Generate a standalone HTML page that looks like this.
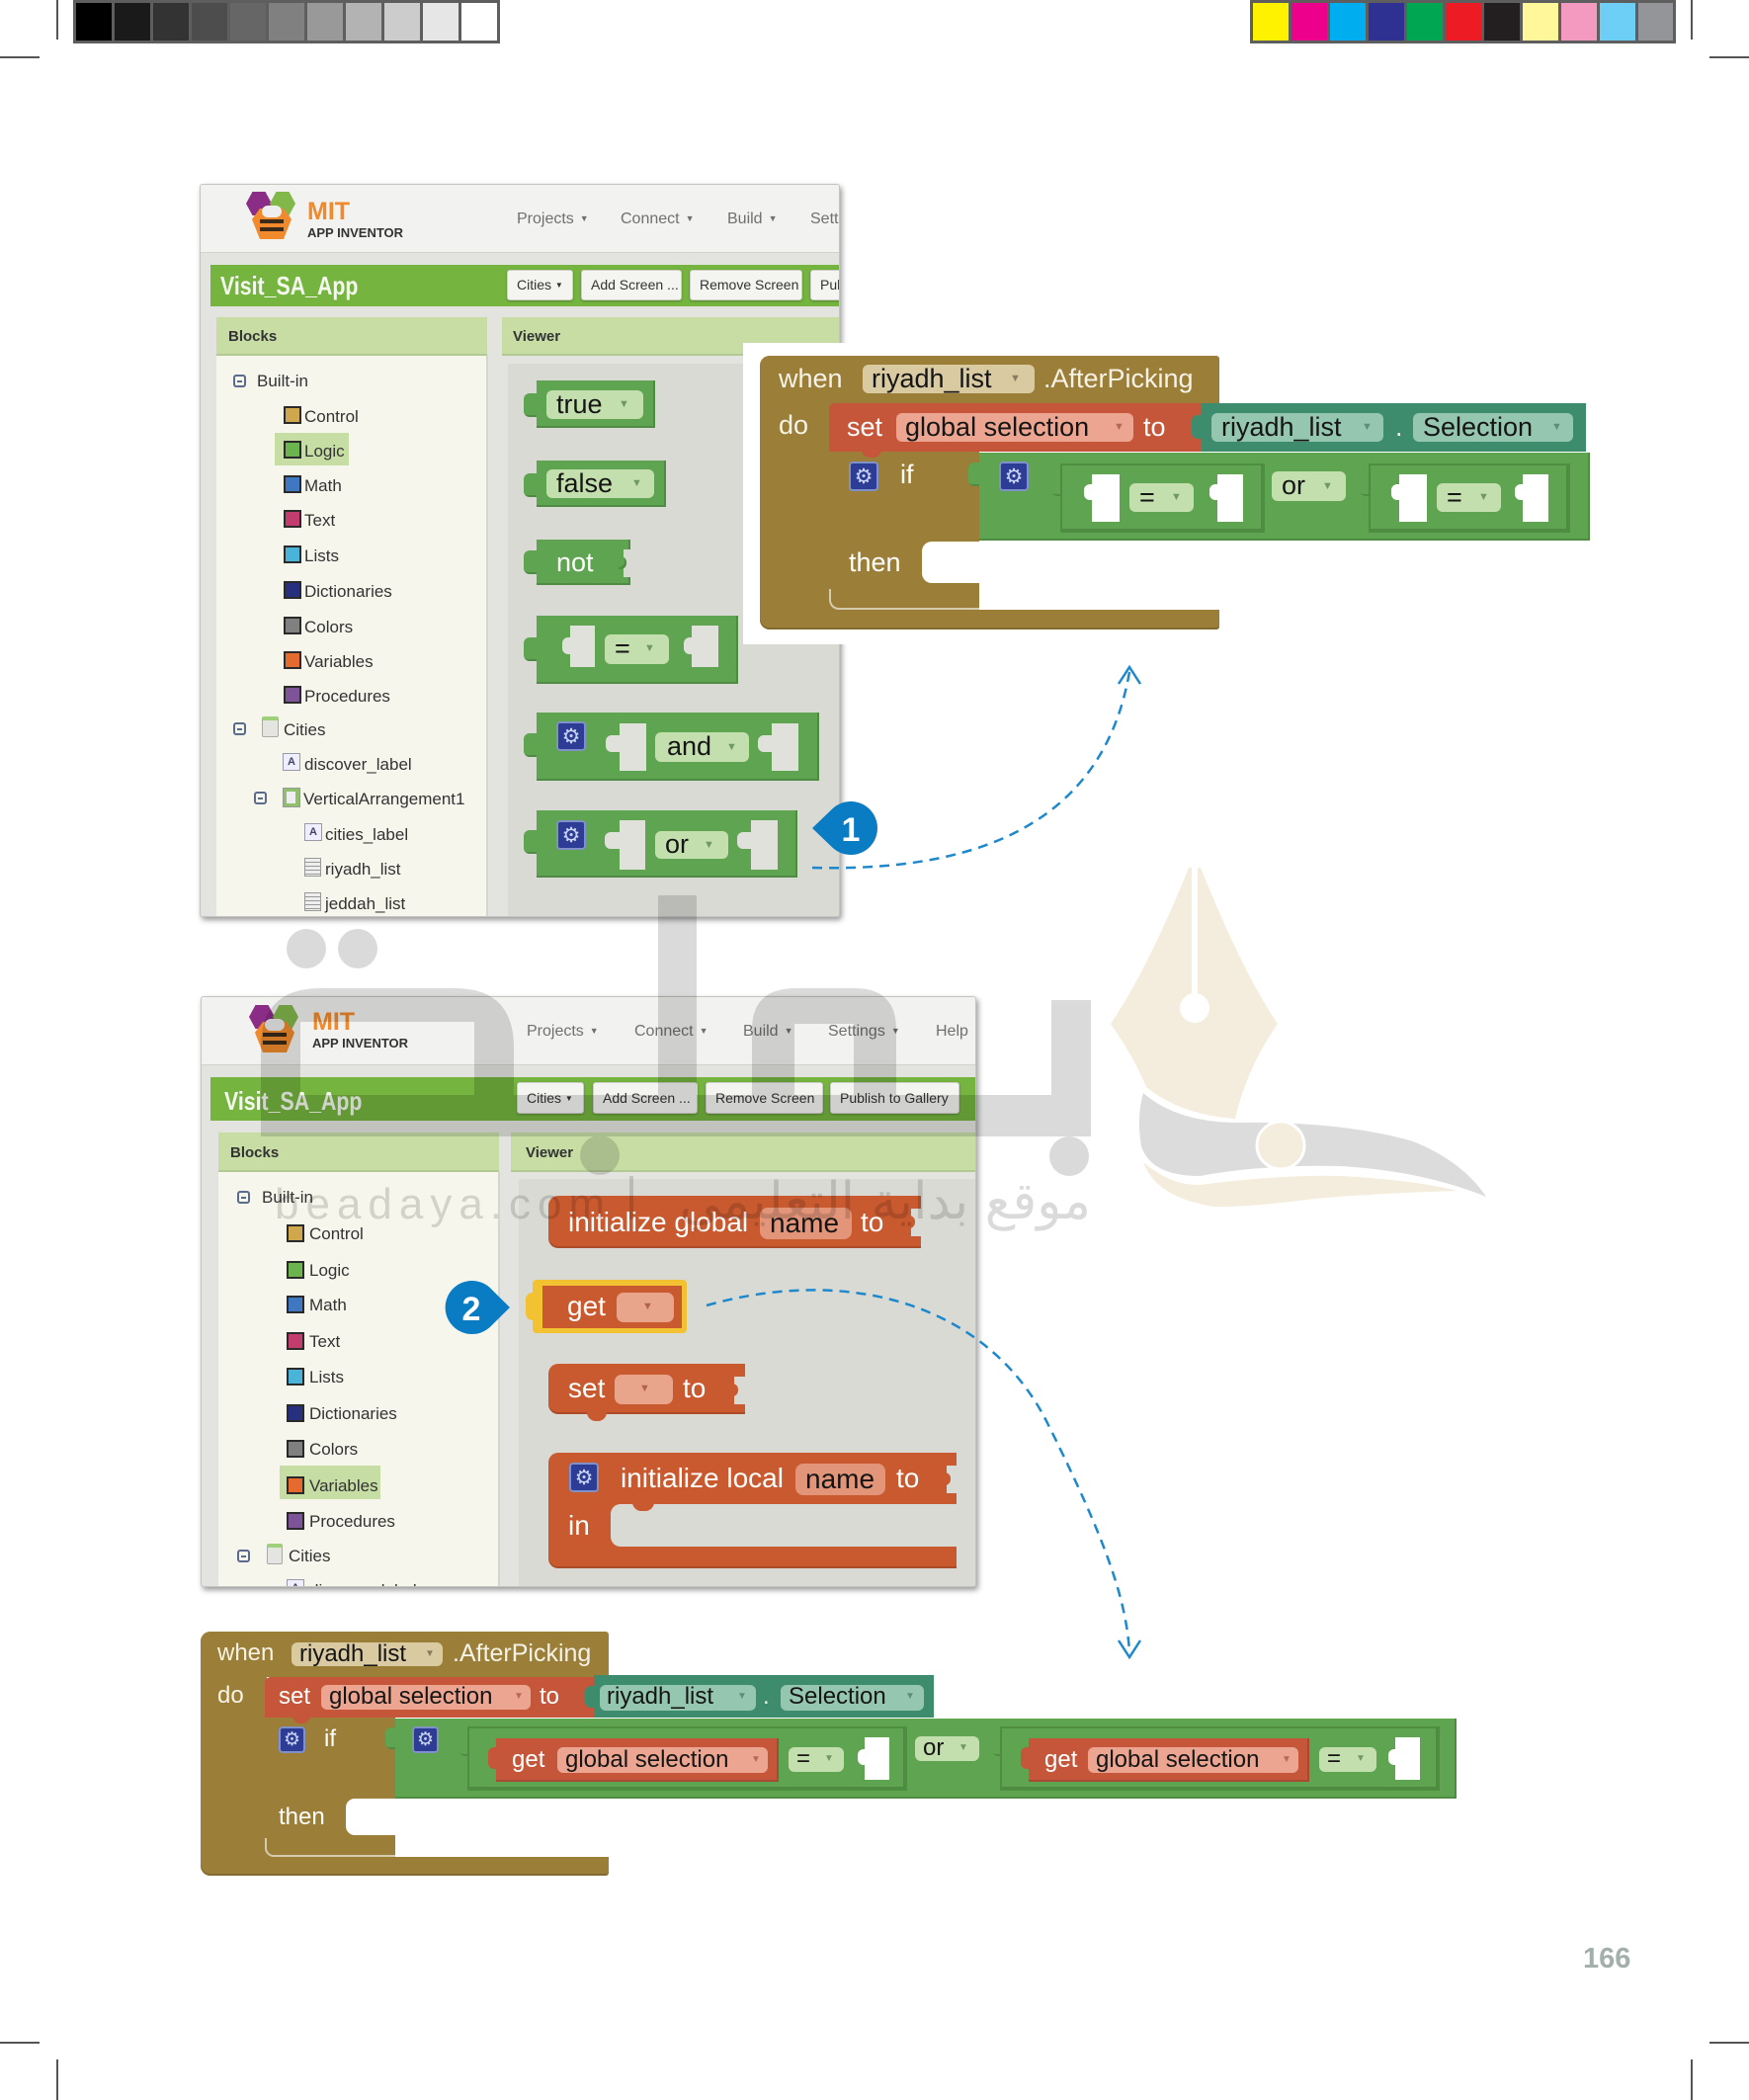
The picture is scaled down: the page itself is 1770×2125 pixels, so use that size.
<!DOCTYPE html>
<html><head><meta charset="utf-8">
<style>
*{box-sizing:border-box}
body{margin:0;width:1770px;height:2125px;position:relative;background:#fff;overflow:hidden;font-family:"Liberation Sans",sans-serif}
.a{position:absolute}
.t{position:absolute;white-space:nowrap;line-height:1}
.fr{position:absolute;overflow:hidden;background:#e3e3df;box-shadow:2px 3px 6px rgba(0,0,0,.4);border:1px solid #c4c4c0;border-radius:3px}
.hd{position:absolute;left:0;top:0;background:#f2f2f0;border-bottom:1px solid #d2d2ce}
.gb{position:absolute;background:#74b43f}
.btn{position:absolute;background:#f4f4f1;border:1px solid #cfcfca;border-radius:3px;box-shadow:0 1px 2px rgba(0,0,0,.25);font-size:14px;color:#333;line-height:29px;padding-left:9px;white-space:nowrap;overflow:hidden}
.ph{position:absolute;background:#c7dda4;border-bottom:2px solid #b3c993}
.pht{position:absolute;font-weight:bold;font-size:15px;color:#333;line-height:1;white-space:nowrap}
.mn{position:absolute;font-size:16px;color:#707070;white-space:nowrap;line-height:1}
.mn i{font-style:normal;font-size:9px;vertical-align:2px;margin-left:6px}
.tr{position:absolute;font-size:17px;color:#333;white-space:nowrap;line-height:1}
.sq{position:absolute;width:18px;height:18px;border:2px solid #2a2a2a}
.mi{position:absolute;width:13px;height:13px;border:2px solid #5a6b8c;border-radius:3px}
.mi:after{content:"";position:absolute;left:2px;top:4px;width:5px;height:2px;background:#5a6b8c}
.g{background:#5fa450;box-shadow:inset -2px -2px 0 rgba(0,0,0,.15)}
.gp{background:#c4dfae;border-radius:6px}
.br{background:#9b7e38}
.rd{background:#c6563a}
.or2{background:#c9592f}
.tl{background:#3d8c6d}
.bp{background:#d9caa2;border-radius:6px}
.sp{background:#eca590;border-radius:6px}
.tp{background:#94c6b0;border-radius:6px}
.w{color:#f6f2e6}
.k{color:#151515}
.ar{position:absolute;font-size:11px;line-height:1}
.gear{position:absolute;width:30px;height:30px;background:#2d3c94;border:2px solid #8090c8;border-radius:4px;color:#c9d4f2;font-family:"DejaVu Sans",sans-serif;font-size:21px;line-height:26px;text-align:center}
.sk{position:absolute;background:#e1e1dc}
.skw{position:absolute;background:#fff}
.nt{position:absolute;border-radius:6px 0 0 6px}
</style></head><body>

<!-- page marks -->
<div class="a" style="left:57px;top:0;width:2px;height:40px;background:#555"></div>
<div class="a" style="left:0;top:57px;width:40px;height:2px;background:#555"></div>
<div class="a" style="left:1711px;top:0;width:2px;height:40px;background:#555"></div>
<div class="a" style="left:1730px;top:57px;width:40px;height:2px;background:#555"></div>
<div class="a" style="left:0;top:2066px;width:40px;height:2px;background:#555"></div>
<div class="a" style="left:1730px;top:2066px;width:40px;height:2px;background:#555"></div>
<div class="a" style="left:57px;top:2084px;width:2px;height:41px;background:#555"></div>
<div class="a" style="left:1711px;top:2084px;width:2px;height:41px;background:#555"></div>

<div class="a" style="left:74px;top:0;width:432px;height:44px;background:#5e5e5e"></div>
<div class="a" style="left:77px;top:3px;width:36px;height:38px;background:#000"></div>
<div class="a" style="left:116px;top:3px;width:36px;height:38px;background:#1a1a1a"></div>
<div class="a" style="left:155px;top:3px;width:36px;height:38px;background:#333"></div>
<div class="a" style="left:194px;top:3px;width:36px;height:38px;background:#4d4d4d"></div>
<div class="a" style="left:233px;top:3px;width:36px;height:38px;background:#666"></div>
<div class="a" style="left:272px;top:3px;width:36px;height:38px;background:#808080"></div>
<div class="a" style="left:311px;top:3px;width:36px;height:38px;background:#999"></div>
<div class="a" style="left:350px;top:3px;width:36px;height:38px;background:#b3b3b3"></div>
<div class="a" style="left:389px;top:3px;width:36px;height:38px;background:#ccc"></div>
<div class="a" style="left:428px;top:3px;width:36px;height:38px;background:#e6e6e6"></div>
<div class="a" style="left:467px;top:3px;width:36px;height:38px;background:#fff"></div>

<div class="a" style="left:1265px;top:0;width:431px;height:44px;background:#5e5e5e"></div>
<div class="a" style="left:1268px;top:3px;width:36px;height:38px;background:#fff200"></div>
<div class="a" style="left:1307px;top:3px;width:36px;height:38px;background:#ec008c"></div>
<div class="a" style="left:1346px;top:3px;width:36px;height:38px;background:#00aeef"></div>
<div class="a" style="left:1385px;top:3px;width:36px;height:38px;background:#2e3192"></div>
<div class="a" style="left:1424px;top:3px;width:36px;height:38px;background:#00a651"></div>
<div class="a" style="left:1463px;top:3px;width:36px;height:38px;background:#ed1c24"></div>
<div class="a" style="left:1502px;top:3px;width:36px;height:38px;background:#231f20"></div>
<div class="a" style="left:1541px;top:3px;width:36px;height:38px;background:#fff799"></div>
<div class="a" style="left:1580px;top:3px;width:36px;height:38px;background:#f49ac1"></div>
<div class="a" style="left:1619px;top:3px;width:36px;height:38px;background:#6dcff6"></div>
<div class="a" style="left:1658px;top:3px;width:35px;height:38px;background:#939598"></div>

<!-- ================= FRAME 1 ================= -->
<div class="fr" style="left:202px;top:186px;width:648px;height:742px">
  <div class="hd" style="width:648px;height:69px"></div>
  <div class="a" style="left:46px;top:7px;width:26px;height:24px;background:#8b2c86;clip-path:polygon(25% 0,75% 0,100% 50%,75% 100%,25% 100%,0 50%)"></div>
  <div class="a" style="left:70px;top:7px;width:26px;height:24px;background:#82b84a;clip-path:polygon(25% 0,75% 0,100% 50%,75% 100%,25% 100%,0 50%)"></div>
  <div class="a" style="left:52px;top:24px;width:40px;height:31px;background:#f08a2c;clip-path:polygon(20% 0,80% 0,100% 35%,80% 100%,20% 100%,0 35%)"></div>
  <div class="a" style="left:62px;top:21px;width:20px;height:12px;background:#eee;border-radius:6px"></div>
  <div class="a" style="left:60px;top:35px;width:24px;height:4px;background:#3a2a1a"></div>
  <div class="a" style="left:60px;top:43px;width:24px;height:4px;background:#3a2a1a"></div>
  <div class="t" style="left:108px;top:15px;font-size:25px;font-weight:bold;color:#f08a2c">MIT</div>
  <div class="t" style="left:108px;top:42px;font-size:13px;font-weight:bold;color:#333">APP INVENTOR</div>
  <div class="mn" style="left:320px;top:27px">Projects<i>▼</i></div>
  <div class="mn" style="left:425px;top:27px">Connect<i>▼</i></div>
  <div class="mn" style="left:533px;top:27px">Build<i>▼</i></div>
  <div class="mn" style="left:617px;top:27px">Settings</div>
  <div class="gb" style="left:10px;top:81px;width:640px;height:42px"></div>
  <div class="t" style="left:20px;top:89px;font-size:26px;font-weight:bold;color:#f4f8ee;transform:scaleX(.82);transform-origin:0 0">Visit_SA_App</div>
  <div class="btn" style="left:310px;top:86px;width:67px;height:31px">Cities <span style="font-size:8px;vertical-align:2px">▼</span></div>
  <div class="btn" style="left:385px;top:86px;width:102px;height:31px">Add Screen ...</div>
  <div class="btn" style="left:495px;top:86px;width:114px;height:31px">Remove Screen</div>
  <div class="btn" style="left:617px;top:86px;width:60px;height:31px">Publish</div>
  <div class="ph" style="left:16px;top:134px;width:274px;height:39px"></div>
  <div class="pht" style="left:28px;top:146px">Blocks</div>
  <div class="ph" style="left:305px;top:134px;width:350px;height:39px"></div>
  <div class="pht" style="left:316px;top:146px">Viewer</div>
  <div class="a" style="left:16px;top:173px;width:275px;height:580px;background:#f6f6ec;border-right:2px solid #d6d6d0"></div>
  <div class="a" style="left:311px;top:181px;width:345px;height:570px;background:#dadad5"></div>
  <div class="mi" style="left:33px;top:192px"></div>
  <div class="tr" style="left:57px;top:190px">Built-in</div>
  <div class="a" style="left:75px;top:251px;width:75px;height:33px;background:#c6dea3"></div>
  <div class="sq" style="left:84px;top:224px;background:#cfa84e"></div><div class="tr" style="left:105px;top:226px">Control</div>
  <div class="sq" style="left:84px;top:259px;background:#6cb44e"></div><div class="tr" style="left:105px;top:261px">Logic</div>
  <div class="sq" style="left:84px;top:294px;background:#3f78c0"></div><div class="tr" style="left:105px;top:296px">Math</div>
  <div class="sq" style="left:84px;top:329px;background:#c23d6e"></div><div class="tr" style="left:105px;top:331px">Text</div>
  <div class="sq" style="left:84px;top:365px;background:#4ab3d8"></div><div class="tr" style="left:105px;top:367px">Lists</div>
  <div class="sq" style="left:84px;top:401px;background:#26307e"></div><div class="tr" style="left:105px;top:403px">Dictionaries</div>
  <div class="sq" style="left:84px;top:437px;background:#808080"></div><div class="tr" style="left:105px;top:439px">Colors</div>
  <div class="sq" style="left:84px;top:472px;background:#e46a2e"></div><div class="tr" style="left:105px;top:474px">Variables</div>
  <div class="sq" style="left:84px;top:507px;background:#7e5498"></div><div class="tr" style="left:105px;top:509px">Procedures</div>
  <div class="mi" style="left:33px;top:544px"></div>
  <div class="a" style="left:62px;top:538px;width:17px;height:21px;background:#e4e4e0;border:1px solid #aaa;border-top:4px solid #9fd07a;border-radius:2px"></div>
  <div class="tr" style="left:84px;top:543px">Cities</div>
  <div class="a" style="left:83px;top:575px;width:18px;height:18px;background:#eef;border:1px solid #99a;font-size:11px;line-height:16px;text-align:center;color:#446;font-weight:bold">A</div>
  <div class="tr" style="left:105px;top:578px">discover_label</div>
  <div class="mi" style="left:54px;top:614px"></div>
  <div class="a" style="left:83px;top:610px;width:18px;height:20px;background:#8fc06c;border:1px solid #999"></div>
  <div class="a" style="left:87px;top:614px;width:9px;height:12px;background:#eee"></div>
  <div class="tr" style="left:104px;top:613px">VerticalArrangement1</div>
  <div class="a" style="left:105px;top:646px;width:18px;height:18px;background:#eef;border:1px solid #99a;font-size:11px;line-height:16px;text-align:center;color:#446;font-weight:bold">A</div>
  <div class="tr" style="left:126px;top:649px">cities_label</div>
  <div class="a" style="left:105px;top:681px;width:17px;height:19px;background:#eee;border:1px solid #999;background-image:repeating-linear-gradient(#eee 0 3px,#999 3px 4px)"></div>
  <div class="tr" style="left:126px;top:684px">riyadh_list</div>
  <div class="a" style="left:105px;top:716px;width:17px;height:19px;background:#eee;border:1px solid #999;background-image:repeating-linear-gradient(#eee 0 3px,#999 3px 4px)"></div>
  <div class="tr" style="left:126px;top:719px">jeddah_list</div>
</div>

<!-- ================= FRAME 2 ================= -->
<div class="fr" style="left:203px;top:1008px;width:785px;height:598px">
  <div class="hd" style="width:785px;height:69px"></div>
  <div class="a" style="left:48px;top:8px;width:26px;height:24px;background:#8b2c86;clip-path:polygon(25% 0,75% 0,100% 50%,75% 100%,25% 100%,0 50%)"></div>
  <div class="a" style="left:72px;top:8px;width:26px;height:24px;background:#82b84a;clip-path:polygon(25% 0,75% 0,100% 50%,75% 100%,25% 100%,0 50%)"></div>
  <div class="a" style="left:54px;top:25px;width:40px;height:31px;background:#f08a2c;clip-path:polygon(20% 0,80% 0,100% 35%,80% 100%,20% 100%,0 35%)"></div>
  <div class="a" style="left:64px;top:22px;width:20px;height:12px;background:#eee;border-radius:6px"></div>
  <div class="a" style="left:62px;top:36px;width:24px;height:4px;background:#3a2a1a"></div>
  <div class="a" style="left:62px;top:44px;width:24px;height:4px;background:#3a2a1a"></div>
  <div class="t" style="left:112px;top:13px;font-size:25px;font-weight:bold;color:#f08a2c">MIT</div>
  <div class="t" style="left:112px;top:40px;font-size:13px;font-weight:bold;color:#333">APP INVENTOR</div>
  <div class="mn" style="left:329px;top:27px">Projects<i>▼</i></div>
  <div class="mn" style="left:438px;top:27px">Connect<i>▼</i></div>
  <div class="mn" style="left:548px;top:27px">Build<i>▼</i></div>
  <div class="mn" style="left:634px;top:27px">Settings<i>▼</i></div>
  <div class="mn" style="left:743px;top:27px">Help</div>
  <div class="gb" style="left:9px;top:81px;width:780px;height:44px"></div>
  <div class="t" style="left:23px;top:92px;font-size:26px;font-weight:bold;color:#f4f8ee;transform:scaleX(.82);transform-origin:0 0">Visit_SA_App</div>
  <div class="btn" style="left:319px;top:86px;width:68px;height:32px;line-height:30px">Cities <span style="font-size:8px;vertical-align:2px">▼</span></div>
  <div class="btn" style="left:396px;top:86px;width:106px;height:32px;line-height:30px">Add Screen ...</div>
  <div class="btn" style="left:510px;top:86px;width:119px;height:32px;line-height:30px">Remove Screen</div>
  <div class="btn" style="left:636px;top:86px;width:131px;height:32px;line-height:30px">Publish to Gallery</div>
  <div class="ph" style="left:17px;top:137px;width:284px;height:40px"></div>
  <div class="pht" style="left:29px;top:150px">Blocks</div>
  <div class="ph" style="left:313px;top:137px;width:480px;height:40px"></div>
  <div class="pht" style="left:328px;top:150px">Viewer</div>
  <div class="a" style="left:17px;top:177px;width:285px;height:430px;background:#f6f6ec;border-right:2px solid #d6d6d0"></div>
  <div class="a" style="left:321px;top:184px;width:470px;height:420px;background:#dadad5"></div>
  <div class="mi" style="left:36px;top:196px"></div>
  <div class="tr" style="left:61px;top:194px">Built-in</div>
  <div class="a" style="left:79px;top:474px;width:102px;height:34px;background:#c6dea3"></div>
  <div class="sq" style="left:86px;top:230px;background:#cfa84e"></div><div class="tr" style="left:109px;top:231px">Control</div>
  <div class="sq" style="left:86px;top:267px;background:#6cb44e"></div><div class="tr" style="left:109px;top:268px">Logic</div>
  <div class="sq" style="left:86px;top:302px;background:#3f78c0"></div><div class="tr" style="left:109px;top:303px">Math</div>
  <div class="sq" style="left:86px;top:339px;background:#c23d6e"></div><div class="tr" style="left:109px;top:340px">Text</div>
  <div class="sq" style="left:86px;top:375px;background:#4ab3d8"></div><div class="tr" style="left:109px;top:376px">Lists</div>
  <div class="sq" style="left:86px;top:412px;background:#26307e"></div><div class="tr" style="left:109px;top:413px">Dictionaries</div>
  <div class="sq" style="left:86px;top:448px;background:#808080"></div><div class="tr" style="left:109px;top:449px">Colors</div>
  <div class="sq" style="left:86px;top:485px;background:#e46a2e"></div><div class="tr" style="left:109px;top:486px">Variables</div>
  <div class="sq" style="left:86px;top:521px;background:#7e5498"></div><div class="tr" style="left:109px;top:522px">Procedures</div>
  <div class="mi" style="left:36px;top:559px"></div>
  <div class="a" style="left:66px;top:553px;width:16px;height:21px;background:#e4e4e0;border:1px solid #aaa;border-top:4px solid #9fd07a;border-radius:2px"></div>
  <div class="tr" style="left:88px;top:557px">Cities</div>
  <div class="a" style="left:86px;top:589px;width:18px;height:18px;background:#eef;border:1px solid #99a;font-size:11px;line-height:16px;text-align:center;color:#446;font-weight:bold">A</div>
  <div class="tr" style="left:109px;top:592px">discover_label</div>
</div>

<!-- ============ Frame 1 viewer blocks ============ -->
<div class="a g nt" style="left:530px;top:398px;width:16px;height:24px"></div>
<div class="a g" style="left:543px;top:385px;width:120px;height:48px"></div>
<div class="a gp" style="left:553px;top:395px;width:98px;height:29px"></div>
<div class="t k" style="left:563px;top:396px;font-size:27px">true</div>
<div class="ar" style="left:626px;top:404px;color:#6f9a5f">▼</div>

<div class="a g nt" style="left:530px;top:479px;width:16px;height:24px"></div>
<div class="a g" style="left:543px;top:466px;width:131px;height:47px"></div>
<div class="a gp" style="left:553px;top:475px;width:109px;height:29px"></div>
<div class="t k" style="left:563px;top:476px;font-size:27px">false</div>
<div class="ar" style="left:639px;top:484px;color:#6f9a5f">▼</div>

<div class="a g nt" style="left:530px;top:557px;width:16px;height:24px"></div>
<div class="a g" style="left:543px;top:546px;width:95px;height:46px"></div>
<div class="t w" style="left:563px;top:556px;font-size:27px;color:#fff">not</div>
<div class="a" style="left:631px;top:556px;width:8px;height:28px;background:#dadad5"></div>
<div class="a g" style="left:626px;top:563px;width:8px;height:13px;border-radius:0 6px 6px 0"></div>

<div class="a g nt" style="left:530px;top:645px;width:16px;height:24px"></div>
<div class="a g" style="left:543px;top:623px;width:204px;height:69px"></div>
<div class="sk nt" style="left:569px;top:645px;width:10px;height:17px"></div>
<div class="sk" style="left:577px;top:633px;width:25px;height:42px"></div>
<div class="a gp" style="left:612px;top:642px;width:65px;height:30px"></div>
<div class="t k" style="left:622px;top:643px;font-size:27px">=</div>
<div class="ar" style="left:652px;top:651px;color:#6f9a5f">▼</div>
<div class="sk nt" style="left:692px;top:645px;width:10px;height:17px"></div>
<div class="sk" style="left:700px;top:633px;width:27px;height:42px"></div>

<div class="a g nt" style="left:530px;top:742px;width:16px;height:24px"></div>
<div class="a g" style="left:543px;top:721px;width:286px;height:69px"></div>
<div class="gear" style="left:563px;top:730px">⚙</div>
<div class="sk nt" style="left:613px;top:744px;width:16px;height:17px"></div>
<div class="sk" style="left:627px;top:732px;width:27px;height:48px"></div>
<div class="a gp" style="left:663px;top:741px;width:95px;height:30px"></div>
<div class="t k" style="left:675px;top:742px;font-size:27px">and</div>
<div class="ar" style="left:735px;top:751px;color:#6f9a5f">▼</div>
<div class="sk nt" style="left:767px;top:744px;width:16px;height:17px"></div>
<div class="sk" style="left:781px;top:732px;width:27px;height:48px"></div>

<div class="a g nt" style="left:530px;top:840px;width:16px;height:24px"></div>
<div class="a g" style="left:543px;top:820px;width:264px;height:68px"></div>
<div class="gear" style="left:563px;top:830px">⚙</div>
<div class="sk nt" style="left:612px;top:842px;width:17px;height:17px"></div>
<div class="sk" style="left:627px;top:830px;width:26px;height:50px"></div>
<div class="a gp" style="left:663px;top:841px;width:74px;height:28px"></div>
<div class="t k" style="left:673px;top:841px;font-size:27px">or</div>
<div class="ar" style="left:712px;top:850px;color:#6f9a5f">▼</div>
<div class="sk nt" style="left:746px;top:842px;width:16px;height:17px"></div>
<div class="sk" style="left:760px;top:830px;width:27px;height:50px"></div>

<div class="a" style="left:752px;top:347px;width:112px;height:305px;background:#fff"></div>

<!-- ============ TOP event block ============ -->
<div class="a br" style="left:769px;top:360px;width:465px;height:50px;border-radius:10px 3px 0 0"></div>
<div class="a br" style="left:769px;top:360px;width:72px;height:277px;border-radius:10px 0 0 10px"></div>
<div class="a br" style="left:769px;top:617px;width:465px;height:20px;border-radius:0 0 3px 10px;box-shadow:inset 0 -2px 0 rgba(0,0,0,.15)"></div>
<div class="a br" style="left:839px;top:457px;width:152px;height:161px"></div>
<div class="a" style="left:933px;top:548px;width:60px;height:42px;background:#fff;border-radius:10px 0 0 10px"></div>
<div class="a" style="left:839px;top:596px;width:152px;height:21px;border-left:2px solid rgba(255,255,255,.6);border-bottom:2px solid rgba(255,255,255,.6);border-radius:0 0 0 10px"></div>
<div class="t w" style="left:788px;top:370px;font-size:27px">when</div>
<div class="a bp" style="left:873px;top:369px;width:174px;height:29px"></div>
<div class="t k" style="left:882px;top:370px;font-size:27px">riyadh_list</div>
<div class="ar" style="left:1022px;top:378px;color:#8a7d5c">▼</div>
<div class="t w" style="left:1056px;top:370px;font-size:27px">.AfterPicking</div>
<div class="t w" style="left:788px;top:417px;font-size:27px">do</div>
<div class="a rd" style="left:839px;top:408px;width:377px;height:49px;border-radius:6px 0 0 0"></div>
<div class="a rd" style="left:872px;top:455px;width:20px;height:8px;border-radius:0 0 8px 8px"></div>
<div class="t" style="left:857px;top:419px;font-size:27px;color:#fff">set</div>
<div class="a sp" style="left:907px;top:418px;width:240px;height:29px"></div>
<div class="t k" style="left:916px;top:419px;font-size:27px">global selection</div>
<div class="ar" style="left:1127px;top:427px;color:#b56a55">▼</div>
<div class="t" style="left:1157px;top:419px;font-size:27px;color:#fff">to</div>
<div class="a tl nt" style="left:1206px;top:420px;width:12px;height:24px"></div>
<div class="a tl" style="left:1216px;top:408px;width:389px;height:49px"></div>
<div class="a tp" style="left:1226px;top:418px;width:174px;height:29px"></div>
<div class="t k" style="left:1236px;top:419px;font-size:27px">riyadh_list</div>
<div class="ar" style="left:1378px;top:427px;color:#5f8e7b">▼</div>
<div class="t" style="left:1412px;top:419px;font-size:27px;color:#e8f0ec">.</div>
<div class="a tp" style="left:1430px;top:418px;width:162px;height:29px"></div>
<div class="t k" style="left:1440px;top:419px;font-size:27px">Selection</div>
<div class="ar" style="left:1570px;top:427px;color:#5f8e7b">▼</div>
<div class="gear" style="left:859px;top:467px">⚙</div>
<div class="t" style="left:911px;top:467px;font-size:27px;color:#fff">if</div>
<div class="t" style="left:859px;top:556px;font-size:27px;color:#fff">then</div>
<div class="a g nt" style="left:980px;top:468px;width:13px;height:24px"></div>
<div class="a g" style="left:991px;top:458px;width:618px;height:89px"></div>
<div class="gear" style="left:1011px;top:467px">⚙</div>
<div class="a g" style="left:1073px;top:469px;width:207px;height:70px;border:2px solid #4d8e40"></div>
<div class="a g nt" style="left:1064px;top:480px;width:11px;height:22px"></div>
<div class="skw nt" style="left:1097px;top:490px;width:10px;height:16px"></div>
<div class="skw" style="left:1105px;top:480px;width:28px;height:48px"></div>
<div class="a gp" style="left:1143px;top:489px;width:65px;height:29px"></div>
<div class="t k" style="left:1153px;top:490px;font-size:27px">=</div>
<div class="ar" style="left:1185px;top:498px;color:#6f9a5f">▼</div>
<div class="skw nt" style="left:1224px;top:490px;width:10px;height:16px"></div>
<div class="skw" style="left:1232px;top:480px;width:26px;height:48px"></div>
<div class="a gp" style="left:1287px;top:477px;width:75px;height:30px"></div>
<div class="t k" style="left:1297px;top:478px;font-size:27px">or</div>
<div class="ar" style="left:1338px;top:487px;color:#6f9a5f">▼</div>
<div class="a g" style="left:1385px;top:469px;width:204px;height:70px;border:2px solid #4d8e40"></div>
<div class="a g nt" style="left:1376px;top:480px;width:11px;height:22px"></div>
<div class="skw nt" style="left:1408px;top:490px;width:10px;height:16px"></div>
<div class="skw" style="left:1416px;top:480px;width:28px;height:48px"></div>
<div class="a gp" style="left:1454px;top:489px;width:65px;height:29px"></div>
<div class="t k" style="left:1464px;top:490px;font-size:27px">=</div>
<div class="ar" style="left:1496px;top:498px;color:#6f9a5f">▼</div>
<div class="skw nt" style="left:1533px;top:490px;width:10px;height:16px"></div>
<div class="skw" style="left:1541px;top:480px;width:26px;height:48px"></div>

<!-- ============ Frame 2 viewer blocks ============ -->
<div class="a or2" style="left:555px;top:1210px;width:377px;height:53px;border-radius:10px 0 0 10px;box-shadow:inset 0 -2px 0 rgba(0,0,0,.15)"></div>
<div class="t" style="left:575px;top:1223px;font-size:28px;color:#fff">initialize global</div>
<div class="a" style="left:769px;top:1222px;width:93px;height:32px;background:#e3957a;border-radius:8px"></div>
<div class="t k" style="left:779px;top:1224px;font-size:28px">name</div>
<div class="t" style="left:871px;top:1223px;font-size:28px;color:#fff">to</div>
<div class="a" style="left:922px;top:1223px;width:11px;height:28px;background:#dadad5"></div>
<div class="a or2" style="left:917px;top:1230px;width:9px;height:13px;border-radius:0 6px 6px 0"></div>

<div class="a" style="left:539px;top:1295px;width:156px;height:54px;background:#f2c233;border-radius:4px"></div>
<div class="a" style="left:532px;top:1308px;width:12px;height:28px;background:#f2c233;border-radius:7px 0 0 7px"></div>
<div class="a or2" style="left:549px;top:1301px;width:141px;height:43px"></div>
<div class="t" style="left:574px;top:1308px;font-size:28px;color:#fff">get</div>
<div class="a" style="left:624px;top:1308px;width:58px;height:30px;background:#e8a58c;border-radius:7px"></div>
<div class="ar" style="left:650px;top:1317px;color:#b0644a">▼</div>

<div class="a or2" style="left:555px;top:1380px;width:199px;height:51px;border-radius:10px 0 0 10px;box-shadow:inset 0 -2px 0 rgba(0,0,0,.15)"></div>
<div class="a or2" style="left:594px;top:1429px;width:20px;height:9px;border-radius:0 0 9px 9px"></div>
<div class="t" style="left:575px;top:1391px;font-size:28px;color:#fff">set</div>
<div class="a" style="left:622px;top:1391px;width:59px;height:30px;background:#e8a58c;border-radius:7px"></div>
<div class="ar" style="left:647px;top:1400px;color:#b0644a">▼</div>
<div class="t" style="left:691px;top:1391px;font-size:28px;color:#fff">to</div>
<div class="a" style="left:743px;top:1393px;width:11px;height:28px;background:#dadad5"></div>
<div class="a or2" style="left:738px;top:1400px;width:9px;height:13px;border-radius:0 6px 6px 0"></div>

<div class="a or2" style="left:555px;top:1470px;width:413px;height:117px;border-radius:10px 0 0 10px;box-shadow:inset 0 -2px 0 rgba(0,0,0,.15)"></div>
<div class="a" style="left:618px;top:1522px;width:352px;height:43px;background:#dadad5;border-radius:10px 0 0 10px"></div>
<div class="a or2" style="left:640px;top:1520px;width:22px;height:9px;border-radius:0 0 9px 9px"></div>
<div class="gear" style="left:576px;top:1480px">⚙</div>
<div class="t" style="left:628px;top:1482px;font-size:28px;color:#fff">initialize local</div>
<div class="a" style="left:805px;top:1481px;width:91px;height:32px;background:#e3957a;border-radius:8px"></div>
<div class="t k" style="left:815px;top:1483px;font-size:28px">name</div>
<div class="t" style="left:907px;top:1482px;font-size:28px;color:#fff">to</div>
<div class="a" style="left:958px;top:1483px;width:12px;height:28px;background:#dadad5"></div>
<div class="a or2" style="left:953px;top:1490px;width:9px;height:13px;border-radius:0 6px 6px 0"></div>
<div class="t" style="left:575px;top:1530px;font-size:28px;color:#fff">in</div>

<!-- ============ BOTTOM event block ============ -->
<div class="a br" style="left:203px;top:1651px;width:413px;height:46px;border-radius:10px 3px 0 0"></div>
<div class="a br" style="left:203px;top:1651px;width:67px;height:247px;border-radius:10px 0 0 10px"></div>
<div class="a br" style="left:203px;top:1879px;width:413px;height:19px;border-radius:0 0 3px 10px;box-shadow:inset 0 -2px 0 rgba(0,0,0,.15)"></div>
<div class="a br" style="left:268px;top:1738px;width:132px;height:141px"></div>
<div class="a" style="left:350px;top:1820px;width:52px;height:37px;background:#fff;border-radius:9px 0 0 9px"></div>
<div class="a" style="left:268px;top:1860px;width:132px;height:19px;border-left:2px solid rgba(255,255,255,.6);border-bottom:2px solid rgba(255,255,255,.6);border-radius:0 0 0 9px"></div>
<div class="t w" style="left:220px;top:1661px;font-size:24px">when</div>
<div class="a bp" style="left:295px;top:1662px;width:153px;height:24px"></div>
<div class="t k" style="left:303px;top:1662px;font-size:24px">riyadh_list</div>
<div class="ar" style="left:430px;top:1669px;font-size:10px;color:#8a7d5c">▼</div>
<div class="t w" style="left:458px;top:1661px;font-size:25px">.AfterPicking</div>
<div class="t w" style="left:220px;top:1704px;font-size:24px">do</div>
<div class="a rd" style="left:268px;top:1697px;width:333px;height:41px;border-radius:6px 0 0 0"></div>
<div class="a rd" style="left:296px;top:1736px;width:18px;height:8px;border-radius:0 0 8px 8px"></div>
<div class="t" style="left:282px;top:1705px;font-size:24px;color:#fff">set</div>
<div class="a sp" style="left:325px;top:1705px;width:212px;height:25px"></div>
<div class="t k" style="left:333px;top:1705px;font-size:24px">global selection</div>
<div class="ar" style="left:520px;top:1712px;font-size:10px;color:#b56a55">▼</div>
<div class="t" style="left:546px;top:1705px;font-size:24px;color:#fff">to</div>
<div class="a tl nt" style="left:592px;top:1706px;width:11px;height:22px"></div>
<div class="a tl" style="left:601px;top:1695px;width:344px;height:43px"></div>
<div class="a tp" style="left:607px;top:1705px;width:158px;height:26px"></div>
<div class="t k" style="left:614px;top:1705px;font-size:24px">riyadh_list</div>
<div class="ar" style="left:746px;top:1712px;font-size:10px;color:#5f8e7b">▼</div>
<div class="t" style="left:772px;top:1705px;font-size:24px;color:#e8f0ec">.</div>
<div class="a tp" style="left:790px;top:1705px;width:145px;height:26px"></div>
<div class="t k" style="left:798px;top:1705px;font-size:24px">Selection</div>
<div class="ar" style="left:916px;top:1712px;font-size:10px;color:#5f8e7b">▼</div>
<div class="gear" style="left:282px;top:1747px;width:27px;height:27px;font-size:19px;line-height:23px">⚙</div>
<div class="t" style="left:328px;top:1748px;font-size:24px;color:#fff">if</div>
<div class="t" style="left:282px;top:1827px;font-size:24px;color:#fff">then</div>
<div class="a g nt" style="left:390px;top:1748px;width:12px;height:22px"></div>
<div class="a g" style="left:400px;top:1739px;width:1074px;height:81px"></div>
<div class="gear" style="left:417px;top:1747px;width:27px;height:27px;font-size:19px;line-height:23px">⚙</div>
<div class="a g" style="left:473px;top:1747px;width:445px;height:65px;border:2px solid #4d8e40"></div>
<div class="a g nt" style="left:465px;top:1757px;width:10px;height:20px"></div>
<div class="a rd nt" style="left:494px;top:1768px;width:10px;height:22px"></div>
<div class="a rd" style="left:502px;top:1759px;width:286px;height:44px;box-shadow:inset -2px -2px 0 rgba(0,0,0,.15)"></div>
<div class="t" style="left:518px;top:1769px;font-size:24px;color:#fff">get</div>
<div class="a sp" style="left:564px;top:1768px;width:213px;height:26px"></div>
<div class="t k" style="left:572px;top:1769px;font-size:24px">global selection</div>
<div class="ar" style="left:760px;top:1776px;font-size:10px;color:#b56a55">▼</div>
<div class="a gp" style="left:798px;top:1768px;width:56px;height:25px"></div>
<div class="t k" style="left:806px;top:1768px;font-size:24px">=</div>
<div class="ar" style="left:834px;top:1775px;font-size:10px;color:#6f9a5f">▼</div>
<div class="skw nt" style="left:868px;top:1770px;width:9px;height:16px"></div>
<div class="skw" style="left:875px;top:1758px;width:25px;height:43px"></div>
<div class="a gp" style="left:926px;top:1757px;width:65px;height:25px"></div>
<div class="t k" style="left:934px;top:1757px;font-size:24px">or</div>
<div class="ar" style="left:970px;top:1764px;font-size:10px;color:#6f9a5f">▼</div>
<div class="a g" style="left:1012px;top:1747px;width:445px;height:65px;border:2px solid #4d8e40"></div>
<div class="a g nt" style="left:1004px;top:1757px;width:10px;height:20px"></div>
<div class="a rd nt" style="left:1033px;top:1768px;width:10px;height:22px"></div>
<div class="a rd" style="left:1041px;top:1759px;width:284px;height:44px;box-shadow:inset -2px -2px 0 rgba(0,0,0,.15)"></div>
<div class="t" style="left:1057px;top:1769px;font-size:24px;color:#fff">get</div>
<div class="a sp" style="left:1101px;top:1768px;width:213px;height:26px"></div>
<div class="t k" style="left:1109px;top:1769px;font-size:24px">global selection</div>
<div class="ar" style="left:1297px;top:1776px;font-size:10px;color:#b56a55">▼</div>
<div class="a gp" style="left:1335px;top:1768px;width:58px;height:25px"></div>
<div class="t k" style="left:1343px;top:1768px;font-size:24px">=</div>
<div class="ar" style="left:1372px;top:1775px;font-size:10px;color:#6f9a5f">▼</div>
<div class="skw nt" style="left:1405px;top:1770px;width:9px;height:16px"></div>
<div class="skw" style="left:1412px;top:1758px;width:25px;height:43px"></div>

<div class="t" style="left:1602px;top:1968px;font-size:29px;font-weight:bold;color:#a3afaa">166</div>

<!-- ============ overlay SVG ============ -->
<svg class="a" style="left:0;top:0" width="1770" height="2125" viewBox="0 0 1770 2125">
  <path d="M1203,878 L1215,878 Q1258,985 1293,1036 Q1262,1080 1250,1132 Q1195,1128 1160,1100 Q1148,1070 1124,1036 Q1162,980 1203,878 Z" fill="#f4ecdc"/>
  <rect x="1206" y="876" width="6" height="135" fill="#fff"/>
  <circle cx="1209" cy="1020" r="15" fill="#fff"/>
  <path d="M1157,1106 Q1190,1135 1250,1136 Q1357,1134 1430,1155 Q1480,1175 1504,1211 Q1440,1185 1357,1180 Q1280,1178 1214,1190 Q1165,1190 1155,1160 Q1150,1130 1157,1106 Z" fill="#dcdcdc"/>
  <path d="M1157,1176 Q1185,1200 1214,1199 Q1300,1188 1357,1190 Q1430,1194 1475,1205 Q1400,1207 1330,1213 Q1260,1222 1229,1221 Q1170,1212 1157,1176 Z" fill="#f4ecdc"/>
  <circle cx="1296" cy="1159" r="24" fill="#f4ecdc" stroke="#fff" stroke-width="3"/>
  <g opacity="0.14" fill="#000">
    <circle cx="310" cy="960" r="20"/>
    <circle cx="362" cy="960" r="20"/>
    <path fill-rule="evenodd" d="M264,1060 Q264,1000 324,1000 L460,1000 Q520,1000 520,1060 L520,1150 L264,1150 Z M304,1034 L480,1034 L480,1108 L304,1108 Z"/>
    <rect x="666" y="906" width="39" height="244"/>
    <path fill-rule="evenodd" d="M761,1150 L761,1042 Q761,1000 805,1000 L865,1000 Q907,1000 907,1042 L907,1150 Z M804,1036 L864,1036 L864,1108 L804,1108 Z"/>
    <rect x="264" y="1108" width="840" height="42"/>
    <rect x="1064" y="1012" width="40" height="138"/>
    <circle cx="607" cy="1169" r="20"/>
    <circle cx="1082" cy="1170" r="20"/>
    <text x="278" y="1233" font-family="Liberation Sans, sans-serif" font-size="44" letter-spacing="7">beadaya.com</text>
    <rect x="637" y="1190" width="4" height="44"/>
    <text x="1104" y="1233" font-family="DejaVu Sans, sans-serif" font-size="52" text-anchor="end">موقع بداية التعليمي</text>
  </g>
  <path d="M822,878 C980,882 1115,840 1143,680" fill="none" stroke="#1e88cc" stroke-width="2.5" stroke-dasharray="10 7"/>
  <path d="M1132,692 L1143,675 L1154,692" fill="none" stroke="#1e88cc" stroke-width="2.5"/>
  <path d="M715,1321 C860,1280 1000,1320 1060,1440 S1140,1620 1143,1672" fill="none" stroke="#1e88cc" stroke-width="2.5" stroke-dasharray="10 7"/>
  <path d="M1132,1660 L1143,1677 L1154,1660" fill="none" stroke="#1e88cc" stroke-width="2.5"/>
  <path d="M822,838 L842.3,818.5 A27,27 0 1 1 842.3,857.5 Z" fill="#0a7cc4"/>
  <text x="861" y="851" font-family="Liberation Sans, sans-serif" font-size="34" font-weight="bold" fill="#fff" text-anchor="middle">1</text>
  <path d="M516,1323 L496.4,1342.4 A27,27 0 1 1 496.4,1303.6 Z" fill="#0a7cc4"/>
  <text x="477" y="1336" font-family="Liberation Sans, sans-serif" font-size="34" font-weight="bold" fill="#fff" text-anchor="middle">2</text>
</svg>
</body></html>
